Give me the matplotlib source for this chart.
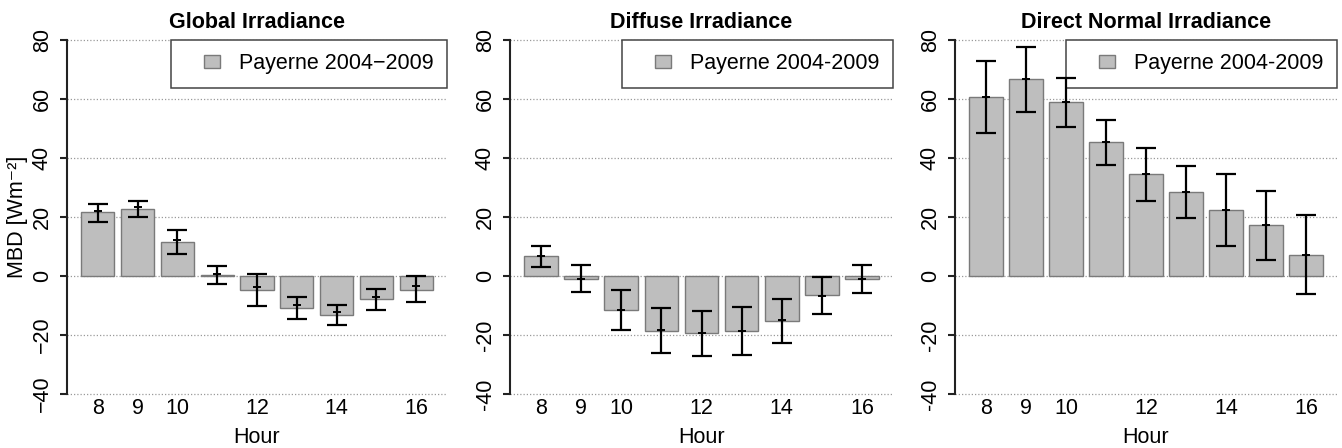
import matplotlib
matplotlib.use("Agg")
import matplotlib.pyplot as plt
from matplotlib.patches import Rectangle
from matplotlib.legend_handler import HandlerPatch
import numpy as np

plt.rcParams['font.family'] = ['Liberation Sans', 'DejaVu Sans']

hours = [8, 9, 10, 11, 12, 13, 14, 15, 16]
shown_hours = [8, 9, 10, 12, 14, 16]

titles = ["Global Irradiance", "Diffuse Irradiance", "Direct Normal Irradiance"]
legend_labels = ["Payerne 2004\u22122009", "Payerne 2004-2009", "Payerne 2004-2009"]
yticks = [-40, -20, 0, 20, 40, 60, 80]
ytick_labels_minus = ["\u221240", "\u221220", "0", "20", "40", "60", "80"]
ytick_labels_hyphen = ["-40", "-20", "0", "20", "40", "60", "80"]

# Global irradiance
g_val = [21.5, 22.7, 11.4, 0.2, -4.9, -11.0, -13.3, -7.9, -4.7]
g_mid = [22.1, 23.4, 12.2, 0.5, -3.8, -9.8, -12.4, -7.0, -3.6]
g_hi = [24.4, 25.3, 15.4, 3.2, 0.7, -7.0, -9.8, -4.3, 0.0]
g_lo = [18.4, 20.1, 7.3, -2.8, -10.2, -14.7, -16.6, -11.4, -9.0]

# Diffuse irradiance
d_val = [6.8, -0.9, -11.6, -18.7, -19.5, -18.7, -15.3, -6.6, -1.1]
d_mid = [6.6, -0.9, -11.4, -18.4, -19.3, -18.6, -15.0, -6.8, -0.9]
d_hi = [10.2, 3.7, -4.9, -11.0, -11.9, -10.4, -7.7, -0.5, 3.7]
d_lo = [3.1, -5.4, -18.2, -26.1, -27.0, -26.9, -22.7, -12.8, -5.8]

# Direct normal irradiance
n_val = [60.7, 66.6, 58.9, 45.4, 34.4, 28.5, 22.4, 17.1, 7.1]
n_mid = [60.7, 66.6, 58.9, 45.4, 34.4, 28.5, 22.4, 17.1, 7.1]
n_hi = [72.7, 77.6, 67.2, 53.0, 43.2, 37.3, 34.7, 28.7, 20.5]
n_lo = [48.6, 55.6, 50.5, 37.6, 25.3, 19.7, 10.1, 5.4, -6.2]

panels = [
    (g_val, g_mid, g_hi, g_lo),
    (d_val, d_mid, d_hi, d_lo),
    (n_val, n_mid, n_hi, n_lo),
]

W, H = 1342, 448
DPI = 100
fig = plt.figure(figsize=(W / DPI, H / DPI), dpi=DPI)

FS = 15.5
bar_face = "#BEBEBE"
bar_edge = "#7a7a7a"

# pixel layout of plot regions (left, right)
lefts_px = [67, 510, 955]
rights_px = [447, 893, 1337]
top_px, bot_px = 25.8, 408.0

ylo, yhi = -40, 80
pad = (yhi - ylo) * 0.04


def sq_patch(legend, orig_handle, xdescent, ydescent, width, height, fontsize):
    s = 0.75 * fontsize
    hh = 0.62 * fontsize
    return Rectangle((width - s - xdescent, -ydescent + (height - hh) / 2), s, hh)


for k, (val, mid, hi, lo) in enumerate(panels):
    l = lefts_px[k] / W
    w = (rights_px[k] - lefts_px[k]) / W
    b = 1 - bot_px / H
    h = (bot_px - top_px) / H
    ax = fig.add_axes([l, b, w, h])

    n = len(hours)
    x = np.array([0.7 + 1.2 * i for i in range(n)])
    xmin, xmax = 0.2, 0.2 + 1.2 * n - 0.2
    xr = xmax - xmin
    ax.set_xlim(xmin - 0.04 * xr, xmax + 0.04 * xr)
    ax.set_ylim(ylo - pad, yhi + pad)

    for yt in yticks:
        ax.axhline(yt, color="#9a9a9a", lw=0.9, ls=(0, (1, 1.6)), zorder=0.5)

    ax.bar(x, val, width=1.0, color=bar_face, edgecolor=bar_edge,
           linewidth=1.0, zorder=2)

    mid_a = np.array(mid)
    yerr = [mid_a - np.array(lo), np.array(hi) - mid_a]
    ax.errorbar(x, mid_a, yerr=yerr, fmt='none', ecolor='black', elinewidth=1.6,
                capsize=7.2, capthick=1.6, zorder=4)
    ax.plot(x, mid_a, ls='none', marker='_', color='black', ms=6, mew=1.4, zorder=4)

    for side in ['top', 'right', 'bottom']:
        ax.spines[side].set_visible(False)
    ax.spines['left'].set_bounds(ylo, yhi)
    ax.spines['left'].set_linewidth(1.5)
    ax.spines['left'].set_color('#222222')

    ax.set_yticks(yticks)
    ax.set_yticklabels(ytick_labels_minus if k == 0 else ytick_labels_hyphen,
                       rotation=90, va='center', fontsize=FS)
    ax.tick_params(axis='y', length=5.2, width=1.5, pad=5, color='#222222')

    idx = [hours.index(hh) for hh in shown_hours]
    ax.set_xticks(x[idx])
    ax.set_xticklabels([str(hh) for hh in shown_hours], fontsize=FS)
    ax.tick_params(axis='x', length=0, pad=-7.5)

    ax.set_facecolor('none')

    proxy = Rectangle((0, 0), 1, 1, facecolor=bar_face, edgecolor=bar_edge, linewidth=1.0)
    leg = ax.legend([proxy], [legend_labels[k]], loc='upper right',
                    bbox_to_anchor=(1.0, (yhi - (ylo - pad)) / (yhi - ylo + 2 * pad)),
                    fontsize=FS, frameon=True, fancybox=False, edgecolor='#444444',
                    framealpha=1.0, borderpad=0.62, handlelength=1.65, handleheight=0.8,
                    handletextpad=0.9, borderaxespad=0.0,
                    handler_map={Rectangle: HandlerPatch(patch_func=sq_patch)})
    leg.get_frame().set_linewidth(1.1)
    leg.set_zorder(3)

    cx = (lefts_px[k] + rights_px[k]) / 2 / W
    fig.text(cx, 1 - 28 / H, titles[k], ha='center', va='baseline',
             fontsize=FS, fontweight='bold')
    fig.text(cx, 1 - 437 / H, "Hour", ha='center', va='center', fontsize=FS)

fig.text(18 / W, 1 - 217 / H, "MBD [Wm\u207b\u00b2]", rotation=90, ha='center',
         va='center', fontsize=FS)

fig.savefig("out.png", dpi=DPI)
